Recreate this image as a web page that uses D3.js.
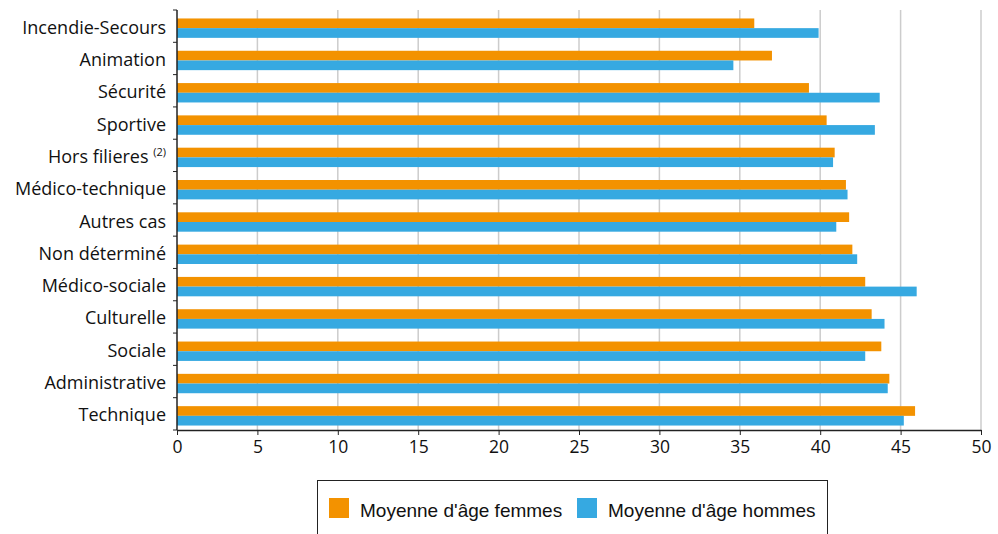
<!DOCTYPE html>
<html><head><meta charset="utf-8">
<script src="https://cdn.jsdelivr.net/npm/d3@7"></script>
<style>body{margin:0;background:#fff}svg{display:block}</style>
</head><body>
<svg id="c" width="998" height="534"></svg>
<script>
const categories = ["Incendie-Secours","Animation","Sécurité","Sportive","Hors filieres","Médico-technique","Autres cas","Non déterminé","Médico-sociale","Culturelle","Sociale","Administrative","Technique"];
const femmes = [35.9, 37.0, 39.3, 40.4, 40.9, 41.6, 41.8, 42.0, 42.8, 43.2, 43.8, 44.3, 45.9];
const hommes = [39.9, 34.6, 43.7, 43.4, 40.8, 41.7, 41.0, 42.3, 46.0, 44.0, 42.8, 44.2, 45.2];
const seriesNames = ["Moyenne d'âge femmes","Moyenne d'âge hommes"];
const xTicks = [0,5,10,15,20,25,30,35,40,45,50];
const colors = ["#F39200","#36A9E1"];

(function(){
const svg = d3.select("#c");
const mL = 177, mR = 981, mT = 10, mB = 430;
const x = d3.scaleLinear().domain([0,50]).range([mL,mR]);
const y = d3.scaleBand().domain(categories).range([mT,mB]).paddingInner(0.4).paddingOuter(0.2);
const y2 = d3.scaleBand().domain([0,1]).range([0,y.bandwidth()]);

svg.append("g").selectAll("line").data(xTicks.filter(d=>d>0)).join("line")
  .attr("x1",d=>x(d)).attr("x2",d=>x(d)).attr("y1",mT).attr("y2",mB)
  .attr("stroke","#cccccc").attr("stroke-width",1.5);

const g = svg.append("g");
categories.forEach((c,i)=>{
  [femmes[i],hommes[i]].forEach((v,j)=>{
    g.append("rect").attr("x",x(0)).attr("y",y(c)+y2(j)+2)
      .attr("width",x(v)-x(0)).attr("height",y2.bandwidth())
      .attr("fill",colors[j]);
  });
});

const yb = d3.scaleLinear().domain([0,categories.length]).range([mT,mB]);
const ya = svg.append("g");
ya.append("line").attr("x1",mL).attr("x2",mL).attr("y1",mT).attr("y2",mB).attr("stroke","#222").attr("stroke-width",1.5);
ya.selectAll("line.t").data(d3.range(categories.length+1)).join("line").attr("class","t")
  .attr("x1",mL-4).attr("x2",mL).attr("y1",d=>yb(d)).attr("y2",d=>yb(d)).attr("stroke","#222");
const lab = ya.selectAll("text").data(categories).join("text")
  .attr("x",166).attr("y",(d,i)=>yb(i+0.5)+7.5).attr("text-anchor","end")
  .attr("font-family","Open Sans, sans-serif").attr("font-size",18).attr("fill","#111")
  .text(d=>d);
lab.filter(d=>d==="Hors filieres").text(null).each(function(d){
  const t=d3.select(this);
  t.append("tspan").text(d+" ");
  t.append("tspan").attr("font-size",11).attr("dy",-7).text("(2)");
});

const xa = svg.append("g").attr("transform",`translate(0,${mB})`)
  .call(d3.axisBottom(x).tickValues(xTicks).tickSize(5).tickPadding(6).tickSizeOuter(0));
xa.select(".domain").attr("stroke","#222").attr("stroke-width",1.5);
xa.selectAll(".tick line").attr("stroke","#222");
xa.selectAll("text").attr("font-family","Open Sans, sans-serif").attr("font-size",17.5).attr("fill","#111");

const lg = svg.append("g");
lg.append("rect").attr("x",317.5).attr("y",480.5).attr("width",510).attr("height",70).attr("fill","#fff").attr("stroke","#222");
const lx = [329, 577];
seriesNames.forEach((s,i)=>{
  lg.append("rect").attr("x",lx[i]).attr("y",498).attr("width",20).attr("height",20).attr("fill",colors[i]);
  lg.append("text").attr("x",lx[i]+31).attr("y",517).attr("font-family","Liberation Sans, Arial, sans-serif")
    .attr("font-size",19).attr("fill","#111").text(s);
});
})();
</script>
</body></html>
